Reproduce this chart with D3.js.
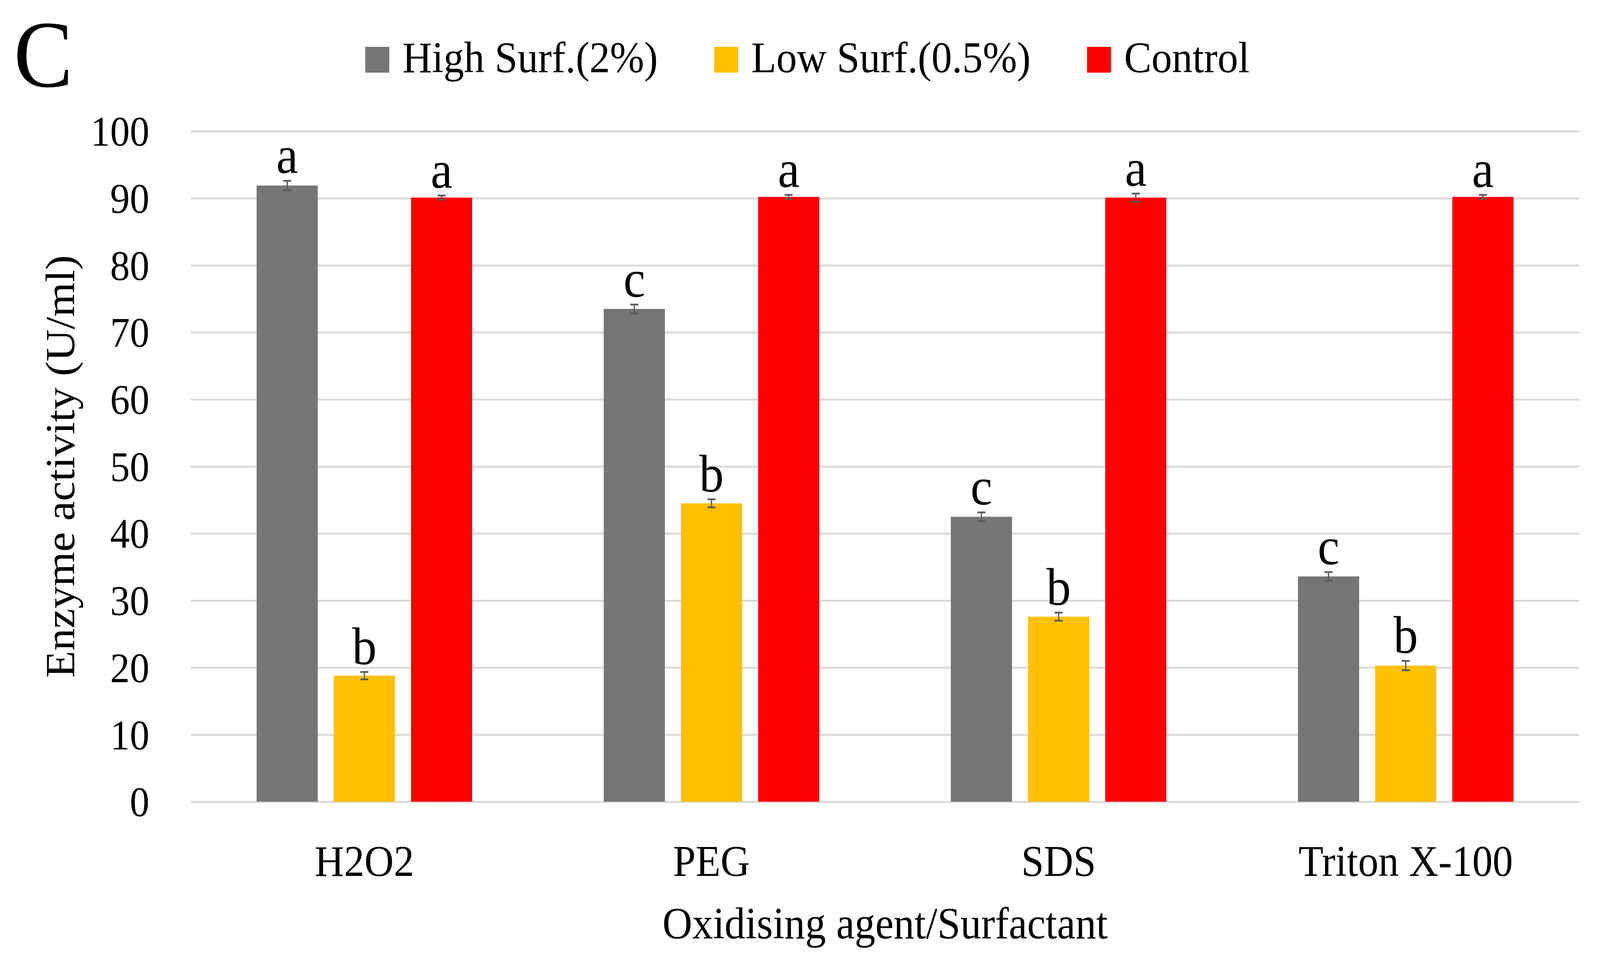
<!DOCTYPE html>
<html>
<head>
<meta charset="utf-8">
<script src="https://cdn.jsdelivr.net/npm/d3@7"></script>
<style>
  html, body { margin: 0; padding: 0; background: #fff; overflow: hidden; }
  #chart { width: 100vw; height: 100vh; }
  svg { display: block; width: 100%; height: 100%; }
</style>
</head>
<body>
<div id="chart"></div>
<script>
'use strict';

// data
var categories = ['H2O2', 'PEG', 'SDS', 'Triton X-100'];
var seriesNames = ['High Surf.(2%)', 'Low Surf.(0.5%)', 'Control'];
var seriesColors = ['#767676', '#FFC000', '#FF0000'];
var highValues = [91.9, 73.5, 42.5, 33.6];
var lowValues = [18.8, 44.5, 27.6, 20.3];
var controlValues = [90.1, 90.2, 90.1, 90.2];
var highErrors = [0.7, 0.65, 0.65, 0.65];
var lowErrors = [0.55, 0.6, 0.6, 0.7];
var controlErrors = [0.3, 0.3, 0.6, 0.3];
var highLetters = ['a', 'c', 'c', 'c'];
var lowLetters = ['b', 'b', 'b', 'b'];
var controlLetters = ['a', 'a', 'a', 'a'];
var yTicks = [0, 10, 20, 30, 40, 50, 60, 70, 80, 90, 100];

var W = 4402, H = 2466;
var plot = { left: 525, right: 4345, top: 336, bottom: 2053 };
var FONT = '"Liberation Serif", "Times New Roman", serif';

var valuesBySeries = [highValues, lowValues, controlValues];
var errorsBySeries = [highErrors, lowErrors, controlErrors];
var lettersBySeries = [highLetters, lowLetters, controlLetters];

var rows = [];
categories.forEach(function (cat, i) {
  seriesNames.forEach(function (s, j) {
    rows.push({
      cat: cat, series: s, idx: j,
      value: valuesBySeries[j][i],
      err: errorsBySeries[j][i],
      letter: lettersBySeries[j][i]
    });
  });
});

// drawn in a fixed 4402x2466 space, stretched to whatever the viewport is
var svg = d3.select('#chart').append('svg')
  .attr('viewBox', [0, 0, W, H])
  .attr('preserveAspectRatio', 'none');

var y = d3.scaleLinear().domain([0, 100]).range([plot.bottom, plot.top]);
var x0 = d3.scaleBand().domain(categories).range([plot.left, plot.right]).padding(0);
var groupPad = 181;
var x1 = d3.scaleBand().domain(seriesNames)
  .range([groupPad, x0.bandwidth() - groupPad])
  .paddingInner(0.2075).paddingOuter(0);

// gridlines
var grid = svg.append('g')
  .attr('transform', 'translate(' + plot.left + ',0)')
  .call(d3.axisLeft(y).tickValues(yTicks).tickSize(-(plot.right - plot.left)).tickFormat(''));
grid.select('.domain').remove();
grid.selectAll('line').attr('stroke', '#D9D9D9').attr('stroke-width', 5);

// y tick labels
var yAxis = svg.append('g')
  .attr('transform', 'translate(' + plot.left + ',0)')
  .call(d3.axisLeft(y).tickValues(yTicks).tickSize(0).tickPadding(114));
yAxis.select('.domain').remove();
yAxis.selectAll('text')
  .attr('font-family', FONT).attr('font-size', 108).attr('fill', '#000')
  .attr('dy', '0.34em');

// x tick labels
var xAxis = svg.append('g')
  .attr('transform', 'translate(0,' + plot.bottom + ')')
  .call(d3.axisBottom(x0).tickSize(0));
xAxis.select('.domain').remove();
xAxis.selectAll('text')
  .attr('font-family', FONT).attr('font-size', 112).attr('fill', '#000')
  .attr('y', 190).attr('dy', 0);

// bars
var groups = svg.append('g').selectAll('g')
  .data(rows)
  .join('g')
  .attr('transform', function (d) { return 'translate(' + (x0(d.cat) + x1(d.series)) + ',0)'; });

groups.append('rect')
  .attr('x', 0)
  .attr('y', function (d) { return y(d.value); })
  .attr('width', x1.bandwidth())
  .attr('height', function (d) { return y(0) - y(d.value); })
  .attr('fill', function (d) { return seriesColors[d.idx]; });

// error bars
var bw = x1.bandwidth();
var capHalf = 11;
groups.append('line')
  .attr('x1', bw / 2).attr('x2', bw / 2)
  .attr('y1', function (d) { return y(d.value + d.err); })
  .attr('y2', function (d) { return y(d.value - d.err); })
  .attr('stroke', '#595959').attr('stroke-width', 3.5);
groups.selectAll('line.cap')
  .data(function (d) { return [d.value + d.err, d.value - d.err]; })
  .join('line')
  .attr('class', 'cap')
  .attr('x1', bw / 2 - capHalf).attr('x2', bw / 2 + capHalf)
  .attr('y1', function (v) { return y(v); })
  .attr('y2', function (v) { return y(v); })
  .attr('stroke', '#595959').attr('stroke-width', 4.5);

// significance letters
groups.append('text')
  .attr('x', bw / 2)
  .attr('y', function (d) { return y(d.value + d.err) - 20; })
  .attr('text-anchor', 'middle')
  .attr('font-family', FONT).attr('font-size', 135).attr('fill', '#000')
  .text(function (d) { return d.letter; });

// axis titles
svg.append('text')
  .attr('transform', 'rotate(-90)')
  .attr('x', -(plot.top + plot.bottom) / 2)
  .attr('y', 204)
  .attr('text-anchor', 'middle')
  .attr('font-family', FONT).attr('font-size', 114).attr('fill', '#000')
  .text('Enzyme activity (U/ml)');

svg.append('text')
  .attr('x', (plot.left + plot.right) / 2)
  .attr('y', 2403)
  .attr('text-anchor', 'middle')
  .attr('font-family', FONT).attr('font-size', 114).attr('fill', '#000')
  .text('Oxidising agent/Surfactant');

// panel letter
svg.append('text')
  .attr('x', 38).attr('y', 222)
  .attr('font-family', FONT).attr('font-size', 244).attr('fill', '#000')
  .text('C');

// legend
var legend = svg.append('g');
var lx = 1005;
seriesNames.forEach(function (name, j) {
  legend.append('rect')
    .attr('x', lx).attr('y', 120)
    .attr('width', 66).attr('height', 66)
    .attr('fill', seriesColors[j]);
  var t = legend.append('text')
    .attr('x', lx + 102).attr('y', 185)
    .attr('font-family', FONT).attr('font-size', 113).attr('fill', '#000')
    .text(name);
  lx = lx + 102 + t.node().getComputedTextLength() + 155;
});
</script>
</body>
</html>
